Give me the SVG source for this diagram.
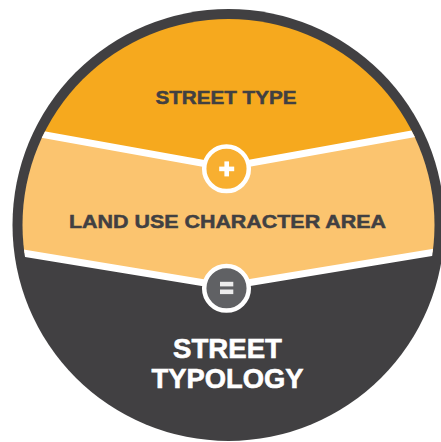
<svg xmlns="http://www.w3.org/2000/svg" width="441" height="442" viewBox="0 0 441 442">
  <defs>
    <clipPath id="inner">
      <circle cx="228.5" cy="225" r="206"/>
    </clipPath>
    <style>
      .lbl { font-family: "Liberation Sans", Arial, sans-serif; font-weight: 700; text-anchor: middle; }
      .dark-lbl { fill: #414042; stroke: #414042; stroke-width: 0.5; font-size: 19px; }
      .big-lbl { fill: #ffffff; stroke: #ffffff; stroke-width: 0.6; font-size: 28px; }
      .sep { fill: none; stroke: #ffffff; stroke-width: 7; stroke-linejoin: miter; }
      .op-ring { stroke: #ffffff; stroke-width: 4.5; }
    </style>
  </defs>
  <rect width="441" height="442" fill="#ffffff"/>
  <circle cx="228.5" cy="225" r="216" fill="#414042"/>
  <g clip-path="url(#inner)">
    <g id="street-type">
      <polygon points="0,0 441,0 441,128.8 226,167.5 0,126.8" fill="#F6A91E"/>
      <text class="lbl dark-lbl" x="226" y="103.5" textLength="141" lengthAdjust="spacingAndGlyphs">STREET TYPE</text>
    </g>
    <g id="land-use-character-area">
      <polygon points="0,126.8 226,167.5 441,128.8 441,251 226,286.5 0,249.2" fill="#FBC46F"/>
      <text class="lbl dark-lbl" x="227.5" y="227.8" textLength="317" lengthAdjust="spacingAndGlyphs">LAND USE CHARACTER AREA</text>
    </g>
    <g id="connectors">
      <polyline class="sep" points="0,126.8 226,167.5 441,128.8"/>
      <polyline class="sep" points="0,249.2 226,286.5 441,251"/>
    </g>
  </g>
  <g id="street-typology">
    <text class="lbl big-lbl" x="227.5" y="358" textLength="109" lengthAdjust="spacingAndGlyphs">STREET</text>
    <text class="lbl big-lbl" x="227.5" y="388" textLength="152" lengthAdjust="spacingAndGlyphs">TYPOLOGY</text>
  </g>
  <g id="plus-operator">
    <circle class="op-ring" cx="226.5" cy="168.8" r="22.3" fill="#F8AF30"/>
    <rect x="219.2" y="166.6" width="15" height="4.6" fill="#ffffff"/>
    <rect x="224.4" y="161.4" width="4.6" height="15" fill="#ffffff"/>
  </g>
  <g id="equals-operator">
    <circle class="op-ring" cx="226.5" cy="288.3" r="22.3" fill="#606164"/>
    <rect x="220" y="281.8" width="13.3" height="4.6" fill="#ececec"/>
    <rect x="220" y="289.5" width="13.3" height="4.6" fill="#ececec"/>
  </g>
</svg>
